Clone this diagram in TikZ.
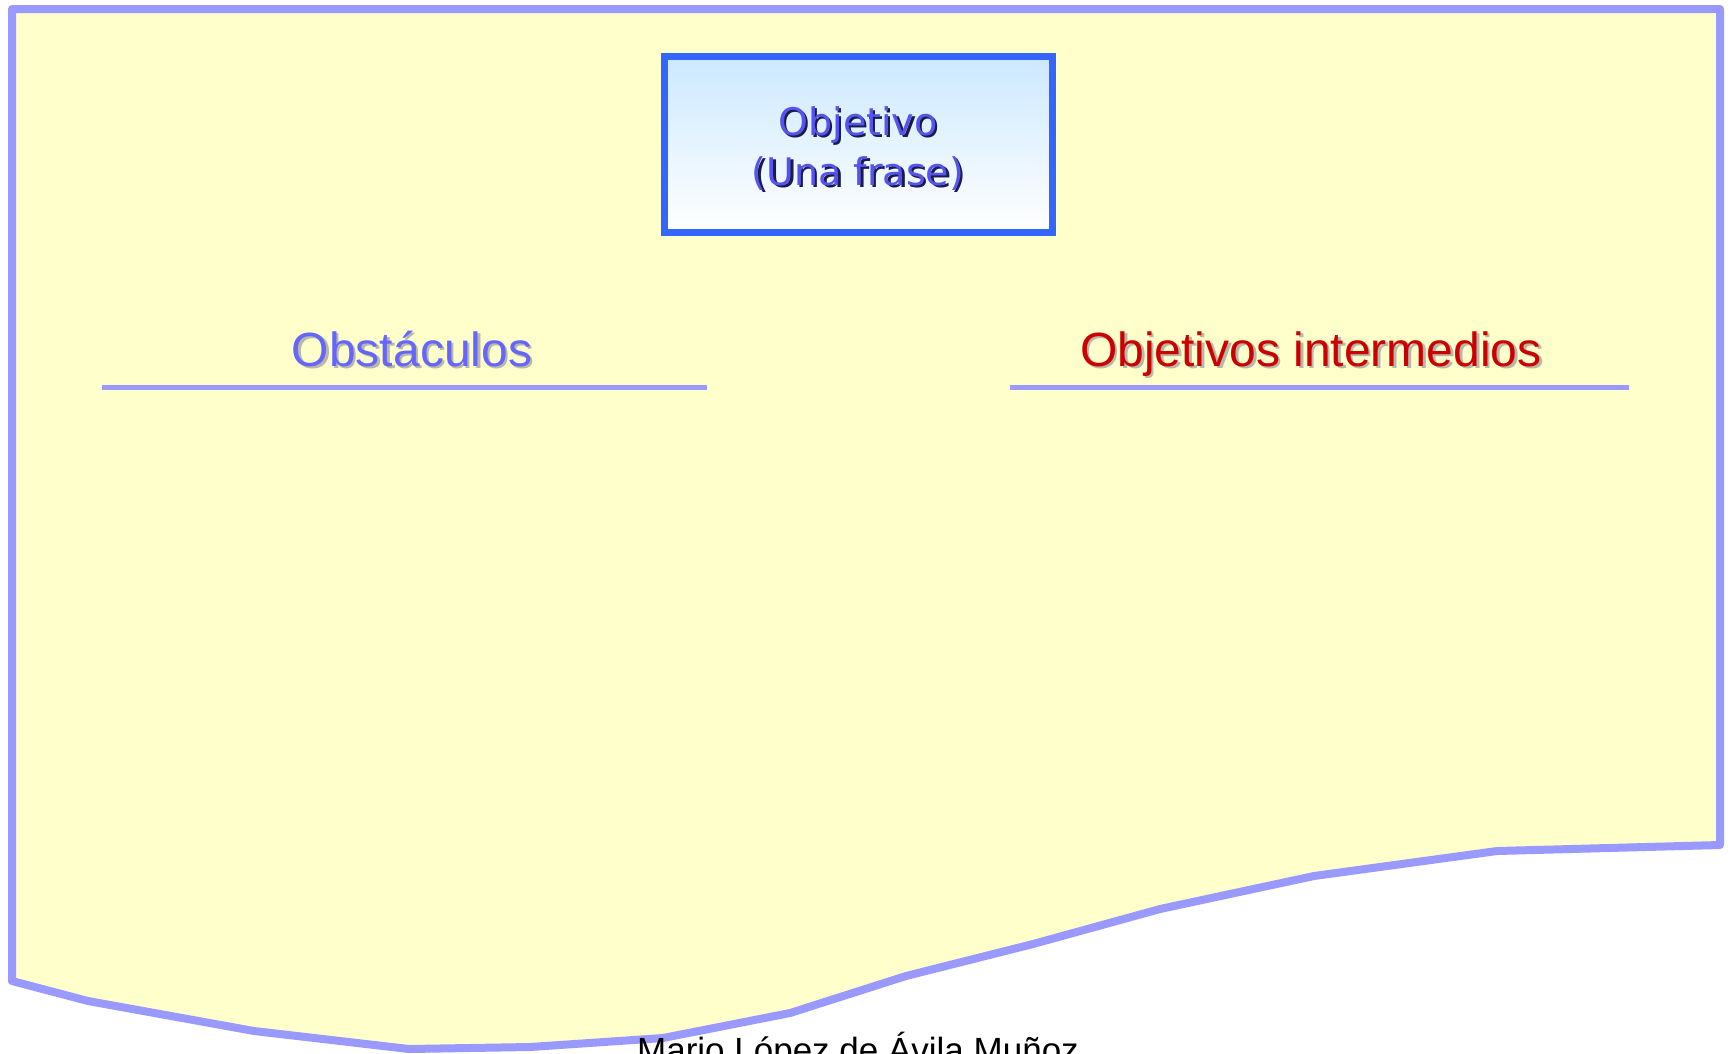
\documentclass[tikz,border=0pt]{standalone}
\usepackage{fontspec}
\setmainfont{Liberation Sans}
\newfontfamily\boxfont{DejaVu Sans}
\usetikzlibrary{positioning}

\definecolor{paper}{HTML}{FFFFCC}
\definecolor{edge}{HTML}{9999FF}
\definecolor{boxedge}{HTML}{3366FF}
\definecolor{boxtop}{HTML}{CCE8FF}
\definecolor{boxtext}{HTML}{5555EE}
\definecolor{boxshadow}{HTML}{1A1A4D}
\definecolor{leftcol}{HTML}{6666FF}
\definecolor{rightcol}{HTML}{CC0000}
\definecolor{grayshadow}{HTML}{B8B8A8}

% text with a drop shadow
\newcommand{\shadowed}[2]{\makebox[0pt][l]{\hspace{2.5pt}\raisebox{-2.5pt}{\color{#1}#2}}#2}

\begin{document}
\begin{tikzpicture}[x=1pt,y=-1pt]
\tikzset{heading/.style={font=\fontsize{48}{56}\selectfont,inner sep=0pt,anchor=base}}
\tikzset{rule/.style={draw=edge,line width=5pt}}
\tikzset{goalbox/.style={draw=boxedge,line width=7pt,top color=boxtop,bottom color=white,
  minimum width=388pt,minimum height=176pt,text=boxtext,
  font=\boxfont\fontsize{38}{50}\selectfont}}
\useasboundingbox (0,0) rectangle (1732,1053);
% sheet
\draw[edge,fill=paper,line width=8pt,line join=round] (12,9) -- (1720,9) -- (1720,845)
  -- (1497,851) -- (1314,876) -- (1160,909) -- (1033,944) -- (906,976) -- (790,1013)
  -- (663,1038) -- (530,1047) -- (409,1049) -- (254,1031) -- (88,1001) -- (12,981) -- cycle;
\node[goalbox] (goal) at (858,144) {\raisebox{-6pt}[\height][\depth]{\begin{tabular}{@{}c@{}}
  \shadowed{boxshadow}{Objetivo}\\\shadowed{boxshadow}{(Una frase)}\end{tabular}}};
\node[heading,text=leftcol] (obst) at (412,366) {\shadowed{grayshadow}{Obstáculos}};
\node[heading,text=rightcol] (inter) at (1311,366) {\shadowed{grayshadow}{Objetivos intermedios}};
\coordinate (obstL) at (102,387);
\coordinate (obstR) at (707,387);
\coordinate (interL) at (1010,387);
\coordinate (interR) at (1629,387);
\draw[rule] (obstL) -- (obstR);
\draw[rule] (interL) -- (interR);
\node[font=\fontsize{35}{40}\selectfont,anchor=base] (author) at (858,1062) {Mario López de Ávila Muñoz};
\end{tikzpicture}
\end{document}
